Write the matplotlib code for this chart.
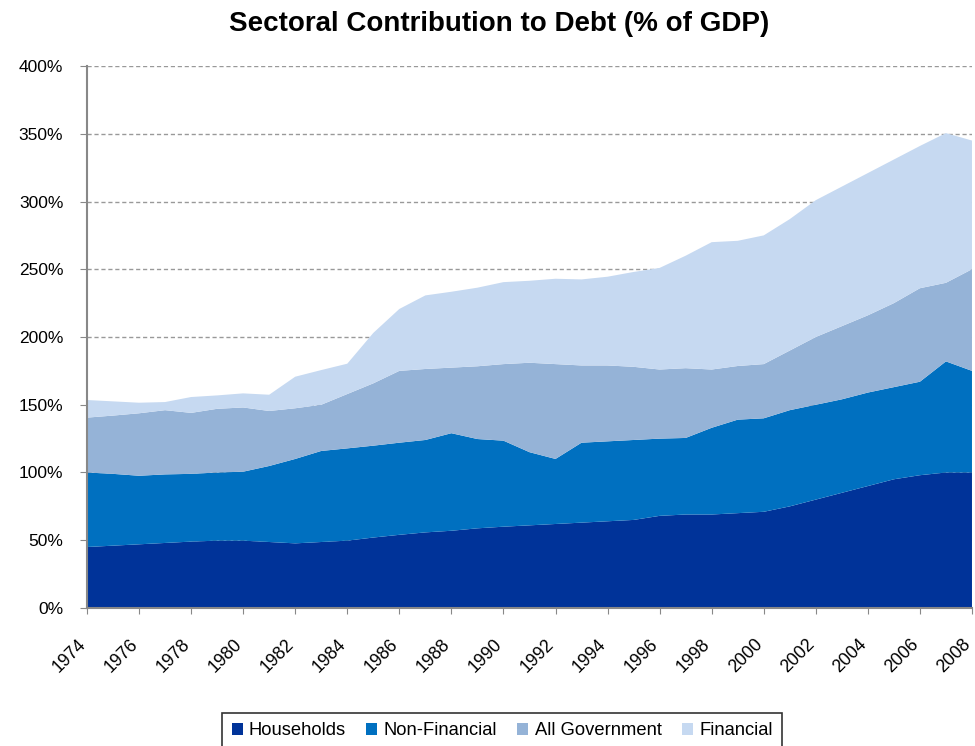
import numpy as np
import matplotlib.pyplot as plt
import matplotlib.transforms as mtransforms
from matplotlib.ticker import FuncFormatter

plt.rcParams['font.family'] = ['Liberation Sans', 'DejaVu Sans']

years = np.arange(1974, 2009)

# cumulative tops, converted to layer sizes below
households = [45, 46, 47, 48, 49, 49.7, 49.7, 48.7, 47.7, 48.7, 49.7, 52, 54, 55.8, 57, 58.8,
              60, 61, 62, 63, 64, 65, 68, 69, 69, 70, 71, 75, 80, 85, 90, 95, 98, 100, 100]
nonfin_top = [100, 99, 97.6, 98.6, 99, 100, 100.6, 104.8, 110, 115.9, 117.8, 119.8, 122, 124, 129, 124.7,
              123.5, 115, 110, 122, 123, 124, 125, 125.5, 133, 139, 140, 146, 150, 154, 159, 163, 167, 182, 175]
gov_top = [140.5, 142, 143.7, 146, 144, 147, 148, 145.4, 147.4, 150, 157.9, 165.8, 175, 176.4, 177.4, 178.4,
           180, 181, 180, 179, 179, 178, 176, 177, 176, 178.6, 180, 190, 200, 208, 216, 225, 236, 240, 250]
fin_top = [153.5, 152.5, 151.5, 152, 155.7, 156.9, 158.4, 157.4, 170.7, 175.6, 180.3, 203, 220.7, 230.7, 233.4, 236.4,
           240.5, 241.5, 243, 242.5, 244.5, 248, 251, 260, 270, 271, 275, 287, 301, 311, 321, 331, 341, 350.5, 345]

nonfinancial = np.array(nonfin_top) - np.array(households)
government = np.array(gov_top) - np.array(nonfin_top)
financial = np.array(fin_top) - np.array(gov_top)

labels = ["Households", "Non-Financial", "All Government", "Financial"]
colors = ["#003399", "#0070C0", "#95B3D7", "#C6D9F1"]

fig = plt.figure(figsize=(9.75, 7.46), dpi=100)
ax = fig.add_axes([0.0892, 0.185, 0.9077, 0.7265])

ax.stackplot(years, households, nonfinancial, government, financial,
             colors=colors, labels=labels, linewidth=0, zorder=2)

ax.set_xlim(1974, 2008)
ax.set_ylim(0, 400)
ax.set_yticks(np.arange(0, 401, 50))
ax.yaxis.set_major_formatter(FuncFormatter(lambda v, p: f"{v:.0f}%"))
ax.set_xticks(np.arange(1974, 2009, 2))
ax.set_xticklabels([str(y) for y in range(1974, 2009, 2)], rotation=45,
                   ha='right', va='top', rotation_mode='anchor')
ax.tick_params(axis='y', labelsize=12.5, color='#888888', direction='out', pad=12, length=5)
ax.tick_params(axis='x', labelsize=12.8, color='#888888', direction='out', pad=16, length=4)

# nudge the rotated year labels left so they end at the tick
shift = mtransforms.ScaledTranslation(-10 / 100, 0, fig.dpi_scale_trans)
for lab in ax.get_xticklabels():
    lab.set_transform(lab.get_transform() + shift)

ax.grid(axis='y', color='#999999', linestyle=(0, (3, 2)), linewidth=1, zorder=1)
ax.set_axisbelow(True)
for s in ['top', 'right']:
    ax.spines[s].set_visible(False)
for s in ['left', 'bottom']:
    ax.spines[s].set_color('#888888')
    ax.spines[s].set_linewidth(1.5)

fig.suptitle("Sectoral Contribution to Debt (% of GDP)", x=0.512, y=0.985,
             fontsize=20, fontweight='bold')

leg = fig.legend(loc='upper center', bbox_to_anchor=(0.515, 0.0442), ncol=4,
                 fontsize=13.2, frameon=True, fancybox=False, edgecolor='black',
                 handlelength=0.6, handleheight=0.6, handletextpad=0.35,
                 columnspacing=1.1, borderpad=0.5, borderaxespad=0)
leg.get_frame().set_linewidth(1.2)

fig.savefig("out.png", dpi=100)
